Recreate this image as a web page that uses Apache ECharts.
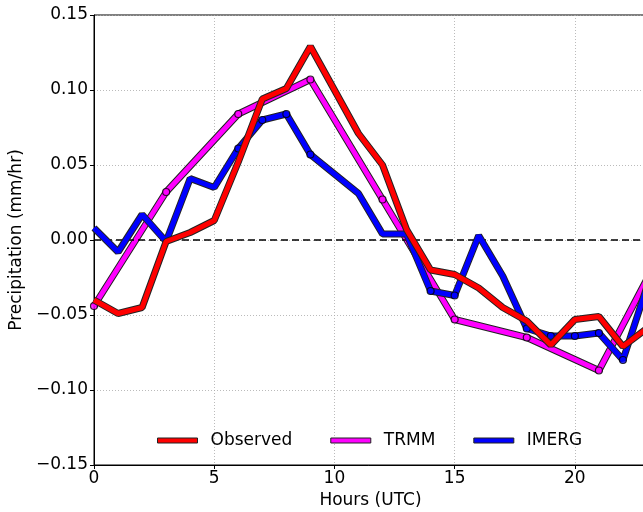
<!DOCTYPE html>
<html>
<head>
<meta charset="utf-8">
<script src="https://cdn.jsdelivr.net/npm/echarts@6/dist/echarts.min.js"></script>
<style>
  html, body { margin: 0; padding: 0; background: #fff; }
  #chart { width: 643px; height: 512px; }
</style>
</head>
<body>
<div id="chart"></div>
<script>
// Diurnal precipitation anomaly by hour (UTC)
const observedHours = [0, 1, 2, 3, 4, 5, 6, 7, 8, 9, 10, 11, 12, 13, 14, 15, 16, 17, 18, 19, 20, 21, 22, 23];
const observedValues = [-0.040, -0.049, -0.045, -0.001, 0.005, 0.013, 0.052, 0.094, 0.101, 0.129, 0.100, 0.071, 0.050, 0.007, -0.020, -0.023, -0.032, -0.045, -0.054, -0.070, -0.053, -0.051, -0.071, -0.059];

const trmmHours = [0, 3, 6, 9, 12, 15, 18, 21, 23];
const trmmValues = [-0.044, 0.032, 0.084, 0.107, 0.027, -0.053, -0.065, -0.087, -0.026];
const trmmMarked = [0, 3, 6, 9, 12, 15, 18, 21];

const imergHours = [0, 1, 2, 3, 4, 5, 6, 7, 8, 9, 10, 11, 12, 13, 14, 15, 16, 17, 18, 19, 20, 21, 22, 23];
const imergValues = [0.008, -0.008, 0.017, -0.001, 0.041, 0.035, 0.061, 0.080, 0.084, 0.057, 0.044, 0.031, 0.004, 0.004, -0.034, -0.037, 0.003, -0.024, -0.059, -0.064, -0.064, -0.062, -0.080, -0.031];
const imergMarked = [6, 7, 8, 9, 14, 15, 18, 19, 20, 21, 22];

const xTicks = [0, 5, 10, 15, 20];
const yTicks = [-0.15, -0.10, -0.05, 0.00, 0.05, 0.10, 0.15];

const FONT = 'DejaVu Sans';
const EDGE = '#222222';

function pairs(hours, values) {
  return hours.map((h, i) => [h, values[i]]);
}
function markedPairs(hours, values, marked) {
  return hours.map((h, i) => [h, values[i]]).filter(p => marked.indexOf(p[0]) >= 0);
}

const lines = [
  { name: 'Observed', color: '#ff0000', data: pairs(observedHours, observedValues), marks: [] },
  { name: 'TRMM', color: '#ff00ff', data: pairs(trmmHours, trmmValues), marks: markedPairs(trmmHours, trmmValues, trmmMarked) },
  { name: 'IMERG', color: '#0000ff', data: pairs(imergHours, imergValues), marks: markedPairs(imergHours, imergValues, imergMarked) }
];

const series = [];
// Stacking: TRMM at the bottom, IMERG above it, Observed on top (each with a dark outline)
const order = [1, 2, 0];
order.forEach((k, n) => {
  const s = lines[k];
  series.push({
    name: s.name + ' outline',
    type: 'line',
    data: s.data,
    symbol: 'none',
    silent: true,
    lineStyle: { color: EDGE, width: 7 },
    z: 3 + n * 3,
    animation: false
  });
  series.push({
    name: s.name,
    type: 'line',
    data: s.data,
    symbol: 'none',
    color: s.color,
    lineStyle: { color: s.color, width: 5 },
    z: 4 + n * 3,
    animation: false
  });
  if (s.marks.length) {
    series.push({
      name: s.name + ' points',
      type: 'scatter',
      data: s.marks,
      symbol: 'circle',
      symbolSize: 7,
      silent: true,
      itemStyle: { color: s.color, borderColor: '#000', borderWidth: 1.2 },
      z: 5 + n * 3,
      animation: false
    });
  }
});

// Zero reference line
series.push({
  name: 'zero',
  type: 'line',
  data: [],
  silent: true,
  z: 2,
  markLine: {
    silent: true,
    symbol: 'none',
    label: { show: false },
    lineStyle: { color: '#000', width: 1.6, type: [7, 4] },
    data: [{ yAxis: 0 }],
    animation: false
  }
});

const fmtY = v => {
  const s = (Math.round(v * 100) / 100).toFixed(2);
  return s === '-0.00' ? '0.00' : s.replace('-', '\u2212');
};

const chart = echarts.init(document.getElementById('chart'), null, { renderer: 'canvas' });
chart.setOption({
  backgroundColor: '#ffffff',
  animation: false,
  grid: {
    left: 94, top: 15, right: -4, bottom: 47,
    outerBoundsMode: 'none',
    containLabel: false,
    show: true, borderColor: '#000', borderWidth: 1, backgroundColor: 'transparent'
  },
  legend: {
    data: lines.map(l => l.name),
    left: 157,
    top: 432,
    padding: 0,
    icon: 'rect',
    itemWidth: 40,
    itemHeight: 5,
    itemGap: 38,
    itemStyle: { borderColor: EDGE, borderWidth: 1 },
    textStyle: { fontFamily: FONT, fontSize: 17, color: '#000', padding: [0, 0, 0, 8] }
  },
  xAxis: {
    type: 'value',
    min: 0, max: 23, interval: 5,
    name: 'Hours (UTC)',
    nameLocation: 'middle',
    nameGap: 25,
    nameTextStyle: { fontFamily: FONT, fontSize: 17, color: '#000' },
    axisLine: { show: true, onZero: false, lineStyle: { color: '#000', width: 1 } },
    axisTick: { show: true, length: 4, lineStyle: { color: '#000' } },
    axisLabel: {
      fontFamily: FONT, fontSize: 17, color: '#000', margin: 5,
      formatter: v => (xTicks.indexOf(v) >= 0 ? String(v) : ''),
      showMaxLabel: false
    },
    splitLine: { show: true, lineStyle: { color: '#aaaaaa', width: 0.8, type: [1, 2] } }
  },
  yAxis: {
    type: 'value',
    min: yTicks[0], max: yTicks[yTicks.length - 1], interval: 0.05,
    name: 'Precipitation (mm/hr)',
    nameLocation: 'middle',
    nameGap: 58,
    nameTextStyle: { fontFamily: FONT, fontSize: 17, color: '#000' },
    axisLine: { show: true, lineStyle: { color: '#000', width: 1 } },
    axisTick: { show: true, length: 4, lineStyle: { color: '#000' } },
    axisLabel: { fontFamily: FONT, fontSize: 17, color: '#000', margin: 6, formatter: fmtY },
    splitLine: { show: true, lineStyle: { color: '#aaaaaa', width: 0.8, type: [1, 2] } }
  },
  series: series
});
</script>
</body>
</html>
